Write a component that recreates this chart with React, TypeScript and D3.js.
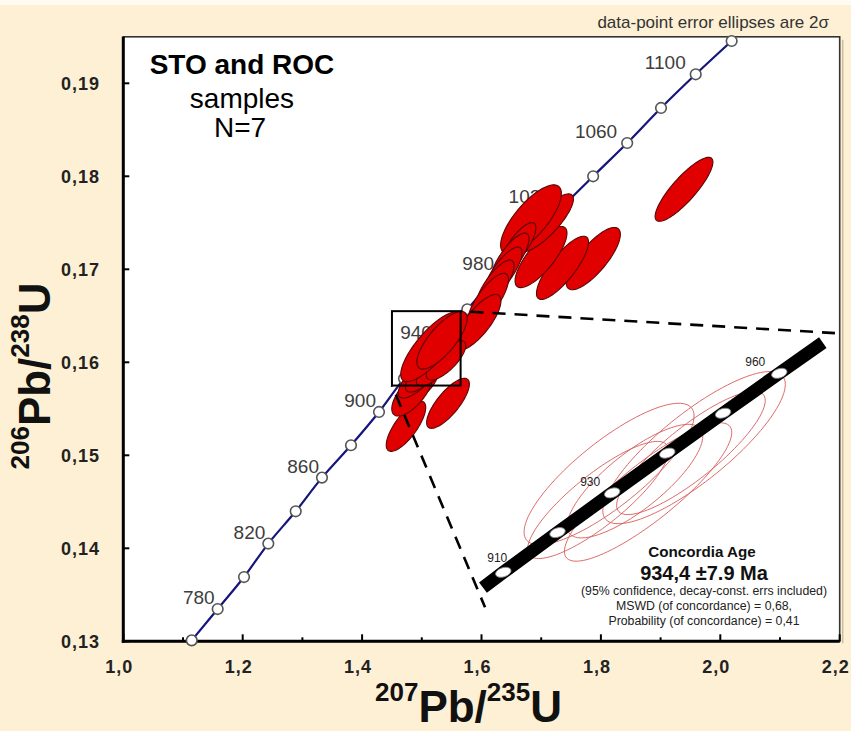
import React, { useRef, useEffect } from 'react';
import * as d3 from 'd3';

const xTicks = [1.0, 1.2, 1.4, 1.6, 1.8, 2.0, 2.2];
const xMinorTicks = [1.1, 1.3, 1.5, 1.7, 1.9, 2.1];
const yTicks = [0.13, 0.14, 0.15, 0.16, 0.17, 0.18, 0.19];

// concordia curve markers every 20 Ma
const markerAges = [760, 780, 800, 820, 840, 860, 880, 900, 920, 940, 960, 980, 1000, 1020, 1040, 1060, 1080, 1100, 1120];
const markerX = [1.1146, 1.1581, 1.2022, 1.2429, 1.2888, 1.3328, 1.3814, 1.4283, 1.4702, 1.522, 1.5762, 1.626, 1.678, 1.733, 1.787, 1.844, 1.9007, 1.9588, 2.019];
const markerY = [0.1301, 0.13347, 0.13691, 0.14051, 0.14398, 0.1476, 0.15108, 0.15466, 0.15825, 0.16194, 0.1657, 0.16935, 0.1729, 0.17656, 0.18, 0.18358, 0.18735, 0.19097, 0.19455];
const labelledAges = [780, 820, 860, 900, 940, 980, 1020, 1060, 1100];

// data-point error ellipses (2 sigma): centre, half widths, error correlation
const ellX = [1.9392, 1.7873, 1.7357, 1.6997, 1.708, 1.6829, 1.6611, 1.6477, 1.636, 1.6226, 1.6109, 1.5941, 1.5439, 1.4735, 1.497, 1.4836, 1.4936, 1.5054, 1.5238, 1.5405, 1.5162, 1.5338];
const ellY = [0.1786, 0.17115, 0.17016, 0.17132, 0.175, 0.17538, 0.17247, 0.17118, 0.16968, 0.16828, 0.16667, 0.1643, 0.15559, 0.15312, 0.15753, 0.15667, 0.15828, 0.15892, 0.15957, 0.16022, 0.16167, 0.16237];
const ellSx = [0.0484, 0.0453, 0.0436, 0.0435, 0.046, 0.0509, 0.03, 0.0319, 0.0319, 0.0319, 0.0343, 0.0385, 0.0358, 0.0331, 0.0308, 0.0339, 0.033, 0.033, 0.033, 0.033, 0.0515, 0.0422];
const ellSy = [0.00344, 0.00335, 0.0034, 0.00329, 0.00311, 0.0037, 0.00255, 0.00271, 0.00271, 0.00271, 0.0029, 0.00299, 0.00269, 0.0027, 0.00198, 0.00245, 0.00212, 0.00212, 0.00212, 0.00212, 0.00375, 0.0031];
const ellRho = [0.85, 0.78, 0.81, 0.78, 0.82, 0.75, 0.78, 0.78, 0.78, 0.78, 0.77, 0.77, 0.77, 0.75, 0.7, 0.68, 0.74, 0.74, 0.74, 0.74, 0.79, 0.76];

// zoom box and connector lines
const boxX = [1.45, 1.565];
const boxY = [0.1575, 0.1655];
const connectorUp = [[1.565, 0.1655], [2.197, 0.16312]];
const connectorDown = [[1.45, 0.1575], [1.6059, 0.13366]];

// inset: concordia band, age markers, ellipses
const insetAges = [910, 920, 930, 940, 950, 960];
const insetMX = [1.4503, 1.4746, 1.4991, 1.5238, 1.5488, 1.574];
const insetMY = [0.15161, 0.1534, 0.15519, 0.15698, 0.15878, 0.16058];
const insetLabelled = [910, 930, 960];
const bandX = [1.4412, 1.4503, 1.4746, 1.4991, 1.5238, 1.5488, 1.574, 1.5935];
const bandY = [0.15092, 0.15161, 0.1534, 0.15519, 0.15698, 0.15878, 0.16058, 0.16196];
const inEllX = [1.4977, 1.4928, 1.5093, 1.5152, 1.5344, 1.5358];
const inEllY = [0.15604, 0.15487, 0.15572, 0.15523, 0.15699, 0.15723];
const inEllSx = [0.0381, 0.0316, 0.0304, 0.0375, 0.0333, 0.0409];
const inEllSy = [0.00319, 0.00264, 0.00256, 0.00312, 0.00278, 0.00343];
const inEllRho = [0.82, 0.84, 0.79, 0.86, 0.85, 0.83];

const resultLines = [
  '(95% confidence, decay-const. errs included)',
  'MSWD (of concordance) = 0,68,',
  'Probability (of concordance) = 0,41',
];

const FONT = '"Liberation Sans", Arial, sans-serif';

function ellipsePoints(cx, cy, sx, sy, rho, xs, ys) {
  const k = Math.sqrt(1 - rho * rho);
  const pts = [];
  for (let i = 0; i < 100; i++) {
    const t = (i / 100) * 2 * Math.PI;
    pts.push([xs(cx + sx * Math.cos(t)), ys(cy + sy * (rho * Math.cos(t) + k * Math.sin(t)))]);
  }
  return pts;
}

function App() {
  const canvas = useRef(null);
  const width = 851;
  const height = 731;

  useEffect(() => {
    const svg = d3.select(canvas.current);
    svg.selectAll('*').remove();

    const x = d3.scaleLinear().domain([1.0, 2.2]).range([123.3, 839.7]);
    const y = d3.scaleLinear().domain([0.13, 0.195]).range([641.3, 36.8]);
    const ix = d3.scaleLinear().domain([1.43, 1.6]).range([458, 837.3]);
    const iy = d3.scaleLinear().domain([0.15, 0.162]).range([608, 341.8]);

    svg.append('rect').attr('width', width).attr('height', height).attr('fill', '#FDF0D4');
    svg.append('rect').attr('width', width).attr('height', 5).attr('fill', '#FFFBF2');

    // plot frame
    svg.append('rect')
      .attr('x', x(1.0)).attr('y', y(0.195))
      .attr('width', x(2.2) - x(1.0)).attr('height', y(0.13) - y(0.195))
      .attr('fill', '#fff').attr('stroke', '#333').attr('stroke-width', 1.6);
    svg.append('line').attr('x1', x(2.2) + 3).attr('x2', x(2.2) + 3)
      .attr('y1', y(0.195) + 3).attr('y2', y(0.13) + 2)
      .attr('stroke', '#c9bca0').attr('stroke-width', 1.5);

    const fmtX = (d) => d3.format('.1f')(d).replace('.', ',');
    const fmtY = (d) => d3.format('.2f')(d).replace('.', ',');

    // x ticks (inward)
    const g = svg.append('g');
    g.selectAll('.xt').data(xTicks).enter().append('line')
      .attr('x1', (d) => x(d)).attr('x2', (d) => x(d))
      .attr('y1', y(0.13)).attr('y2', y(0.13) - 7)
      .attr('stroke', '#000').attr('stroke-width', 2);
    g.selectAll('.xm').data(xMinorTicks).enter().append('line')
      .attr('x1', (d) => x(d)).attr('x2', (d) => x(d))
      .attr('y1', y(0.13)).attr('y2', y(0.13) - 4)
      .attr('stroke', '#000').attr('stroke-width', 2);
    g.selectAll('.xl').data(xTicks).enter().append('text')
      .attr('x', (d) => x(d) - 4).attr('y', 673)
      .attr('text-anchor', 'middle')
      .attr('font-family', FONT).attr('font-size', 18).attr('font-weight', 'bold')
      .attr('letter-spacing', 1).attr('fill', '#222')
      .text(fmtX);

    g.selectAll('.yt').data(yTicks).enter().append('line')
      .attr('x1', x(1.0)).attr('x2', x(1.0) + 6)
      .attr('y1', (d) => y(d)).attr('y2', (d) => y(d))
      .attr('stroke', '#000').attr('stroke-width', 2);
    g.selectAll('.yl').data(yTicks).enter().append('text')
      .attr('x', 100).attr('y', (d) => y(d) + 6.5)
      .attr('text-anchor', 'end')
      .attr('font-family', FONT).attr('font-size', 18).attr('font-weight', 'bold')
      .attr('letter-spacing', 1).attr('fill', '#222')
      .text(fmtY);

    // heavy left / bottom axes
    svg.append('line').attr('x1', x(1.0)).attr('x2', x(1.0)).attr('y1', y(0.195)).attr('y2', y(0.13) + 1.5)
      .attr('stroke', '#000').attr('stroke-width', 3);
    svg.append('line').attr('x1', x(1.0) - 1.5).attr('x2', x(2.2)).attr('y1', y(0.13)).attr('y2', y(0.13))
      .attr('stroke', '#000').attr('stroke-width', 3);

    // axis titles
    const xt = svg.append('text').attr('x', 375).attr('y', 722)
      .attr('font-family', FONT).attr('font-weight', 'bold').attr('fill', '#111');
    xt.append('tspan').attr('font-size', 26).attr('dy', -21).text('207');
    xt.append('tspan').attr('font-size', 44).attr('dy', 21).text('Pb/');
    xt.append('tspan').attr('font-size', 26).attr('dy', -21).text('235');
    xt.append('tspan').attr('font-size', 44).attr('dy', 21).text('U');

    const yt = svg.append('text').attr('transform', 'translate(50,376) rotate(-90)')
      .attr('text-anchor', 'middle')
      .attr('font-family', FONT).attr('font-weight', 'bold').attr('fill', '#111');
    yt.append('tspan').attr('font-size', 26).attr('dy', -21).text('206');
    yt.append('tspan').attr('font-size', 44).attr('dy', 21).text('Pb/');
    yt.append('tspan').attr('font-size', 26).attr('dy', -21).text('238');
    yt.append('tspan').attr('font-size', 44).attr('dy', 21).text('U');

    // title block
    const tb = svg.append('g').attr('font-family', FONT).attr('text-anchor', 'middle').attr('fill', '#000');
    tb.append('text').attr('x', 242).attr('y', 74).attr('font-size', 28).attr('font-weight', 'bold').text('STO and ROC');
    tb.append('text').attr('x', 242).attr('y', 108).attr('font-size', 28).text('samples');
    tb.append('text').attr('x', 240).attr('y', 137).attr('font-size', 28).text('N=7');

    svg.append('text').attr('x', 829).attr('y', 28).attr('text-anchor', 'end')
      .attr('font-family', FONT).attr('font-size', 17).attr('fill', '#333')
      .text('data-point error ellipses are 2σ');

    // concordia
    const markers = markerAges.map((a, i) => ({ age: a, x: markerX[i], y: markerY[i] }));
    const line = d3.line().x((d) => x(d.x)).y((d) => y(d.y)).curve(d3.curveCatmullRom);
    svg.append('path').datum(markers).attr('d', line)
      .attr('fill', 'none').attr('stroke', '#15157a').attr('stroke-width', 2.2);
    svg.selectAll('.mk').data(markers).enter().append('circle')
      .attr('cx', (d) => x(d.x)).attr('cy', (d) => y(d.y)).attr('r', 5.3)
      .attr('fill', '#fff').attr('stroke', '#555').attr('stroke-width', 1.6);
    svg.selectAll('.ml').data(markers.filter((d) => labelledAges.includes(d.age))).enter().append('text')
      .attr('x', (d) => x(d.x) - (d.age > 1000 ? 10 : 3)).attr('y', (d) => y(d.y) - 5)
      .attr('text-anchor', 'end')
      .attr('font-family', FONT).attr('font-size', 19).attr('fill', '#3d3d3d')
      .text((d) => d.age);

    // error ellipses
    const closed = d3.line().curve(d3.curveLinearClosed);
    ellX.forEach((cx, i) => {
      svg.append('path')
        .attr('d', closed(ellipsePoints(cx, ellY[i], ellSx[i], ellSy[i], ellRho[i], x, y)))
        .attr('fill', '#E00000').attr('stroke', '#5a0606').attr('stroke-width', 1.1);
    });

    // zoom box + connectors
    svg.append('rect')
      .attr('x', x(boxX[0])).attr('y', y(boxY[1]))
      .attr('width', x(boxX[1]) - x(boxX[0])).attr('height', y(boxY[0]) - y(boxY[1]))
      .attr('fill', 'none').attr('stroke', '#000').attr('stroke-width', 2);
    [connectorUp, connectorDown].forEach((c) => {
      svg.append('line')
        .attr('x1', x(c[0][0])).attr('y1', y(c[0][1]))
        .attr('x2', x(c[1][0])).attr('y2', y(c[1][1]))
        .attr('stroke', '#000').attr('stroke-width', 2.6)
        .attr('stroke-dasharray', '13,9').attr('stroke-dashoffset', -10);
    });

    // inset
    const inset = svg.append('g');
    inEllX.forEach((cx, i) => {
      inset.append('path')
        .attr('d', closed(ellipsePoints(cx, inEllY[i], inEllSx[i], inEllSy[i], inEllRho[i], ix, iy)))
        .attr('fill', 'none').attr('stroke', '#d85a5a').attr('stroke-width', 0.9);
    });
    const band = bandX.map((v, i) => [ix(v), iy(bandY[i])]);
    inset.append('path').attr('d', d3.line()(band))
      .attr('fill', 'none').attr('stroke', '#000').attr('stroke-width', 13);
    const labelDx = { 910: 4, 930: -12, 960: -14 };
    insetAges.forEach((a, i) => {
      const px = ix(insetMX[i]);
      const py = iy(insetMY[i]);
      inset.append('ellipse').attr('cx', px).attr('cy', py).attr('rx', 8).attr('ry', 4.6)
        .attr('transform', `rotate(-18,${px},${py})`)
        .attr('fill', '#fff').attr('stroke', '#888').attr('stroke-width', 0.8);
      if (insetLabelled.includes(a)) {
        inset.append('text').attr('x', px + labelDx[a]).attr('y', py - (a === 910 ? 10 : 7))
          .attr('text-anchor', 'end')
          .attr('font-family', FONT).attr('font-size', 12).attr('fill', '#222')
          .text(a);
      }
    });

    const rt = inset.append('g').attr('font-family', FONT).attr('text-anchor', 'middle').attr('fill', '#111');
    rt.append('text').attr('x', 702).attr('y', 557).attr('font-size', 15.2).attr('font-weight', 'bold').text('Concordia Age');
    rt.append('text').attr('x', 704).attr('y', 580).attr('font-size', 20).attr('font-weight', 'bold').text('934,4 ±7.9 Ma');
    rt.selectAll('.rl').data(resultLines).enter().append('text')
      .attr('x', 704).attr('y', (d, i) => 595 + i * 15)
      .attr('font-size', 12.3).attr('fill', '#222')
      .text((d) => d);
  }, []);

  return (
    <svg ref={canvas} width={width} height={height}
      style={{ position: 'absolute', left: 0, top: 0, display: 'block' }} />
  );
}

export default App;
